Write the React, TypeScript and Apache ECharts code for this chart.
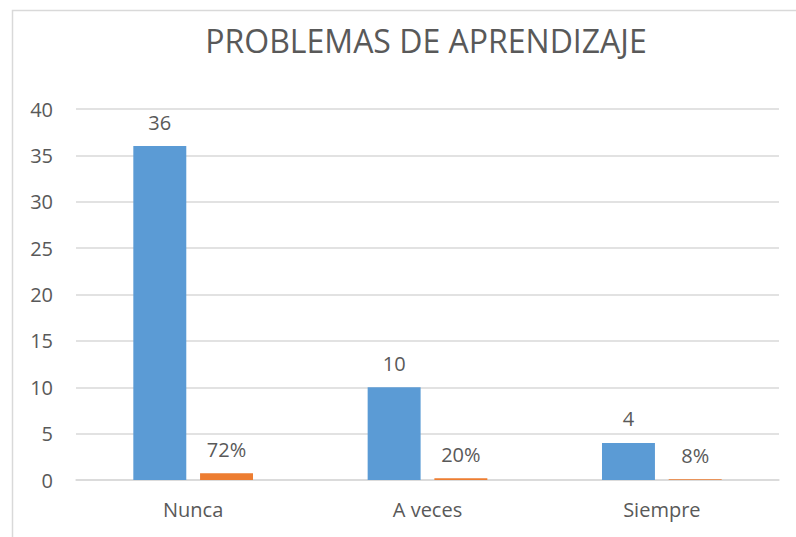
import React, { useEffect, useRef } from "react";
import * as echarts from "echarts";

const categories = ["Nunca", "A veces", "Siempre"];
const counts = [36, 10, 4];
const shares = [0.72, 0.2, 0.08];
const yTicks = [0, 5, 10, 15, 20, 25, 30, 35, 40];

const FONT = "'Open Sans', 'Noto Sans', sans-serif";
const TEXT = "#595959";

export default function App() {
  const ref = useRef<HTMLDivElement>(null);
  useEffect(() => {
    if (!ref.current) return;
    const chart = echarts.init(ref.current, undefined, { renderer: "svg" });
    chart.setOption({
      animation: false,
      backgroundColor: "#ffffff",
      graphic: [
        {
          type: "rect",
          shape: { x: 12.5, y: 10.5, width: 800, height: 600 },
          style: { fill: "none", stroke: "#d9d9d9", lineWidth: 1.5 },
          silent: true,
        },
      ],
      title: {
        text: "PROBLEMAS DE APRENDIZAJE",
        left: 421,
        top: 19,
        textAlign: "center",
        textStyle: { fontFamily: FONT, fontSize: 32, fontWeight: "normal", color: TEXT },
      },
      grid: { left: 76, right: 17, top: 109, bottom: 57, containLabel: false },
      xAxis: {
        type: "category",
        data: categories,
        axisLine: { show: true, lineStyle: { color: "#d9d9d9", width: 1.5 } },
        axisTick: { show: false },
        axisLabel: { fontFamily: FONT, fontSize: 20, color: TEXT, margin: 19 },
      },
      yAxis: {
        type: "value",
        min: yTicks[0],
        max: yTicks[yTicks.length - 1],
        interval: 5,
        axisLine: { show: false },
        axisTick: { show: false },
        axisLabel: { fontFamily: FONT, fontSize: 20, color: TEXT, margin: 23 },
        splitLine: { lineStyle: { color: "#d9d9d9", width: 1.5 } },
      },
      series: [
        {
          type: "bar",
          data: counts,
          barWidth: "22.6%",
          barGap: "26%",
          itemStyle: { color: "#5b9bd5" },
          label: {
            show: true,
            position: "top",
            distance: 14,
            fontFamily: FONT,
            fontSize: 20,
            color: TEXT,
          },
        },
        {
          type: "bar",
          data: shares,
          barWidth: "22.6%",
          barGap: "26%",
          itemStyle: { color: "#ed7d31" },
          label: {
            show: true,
            position: "top",
            distance: 14,
            fontFamily: FONT,
            fontSize: 20,
            color: TEXT,
            formatter: (p: any) => Math.round(p.value * 100) + "%",
          },
        },
      ],
    });
    return () => chart.dispose();
  }, []);
  return (
    <div
      ref={ref}
      style={{ position: "absolute", left: 0, top: 0, width: 796, height: 537 }}
    />
  );
}
